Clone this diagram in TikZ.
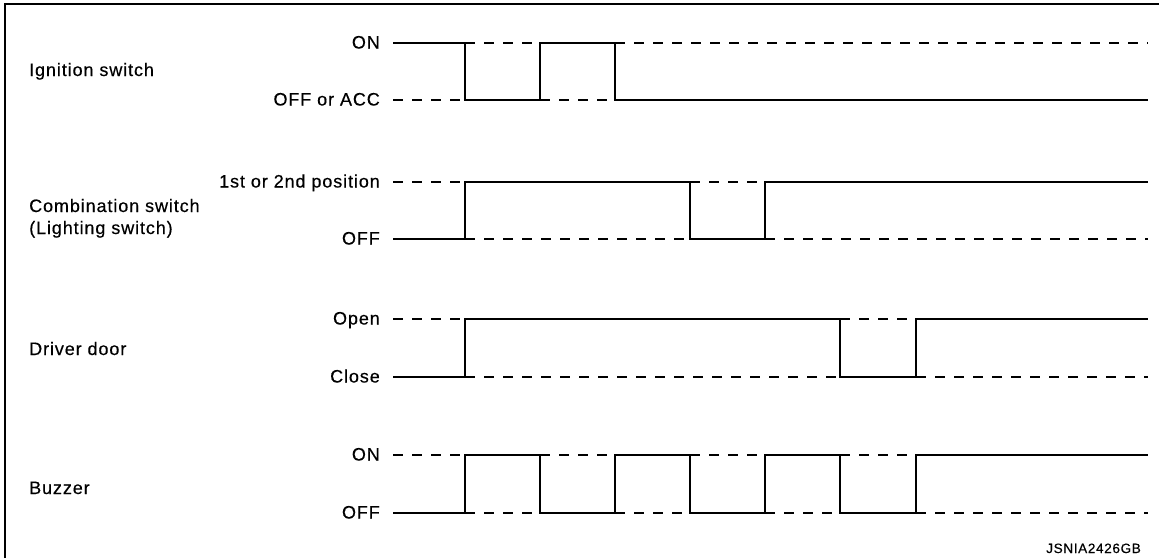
\documentclass[tikz,border=0pt]{standalone}
\usepackage{fontspec}
\setmainfont{Liberation Sans}[LetterSpace=5,FakeBold=0.4]
\begin{document}
\begin{tikzpicture}[x=1pt,y=-1pt,
  sig/.style={line width=2.5pt},
  dsh/.style={line width=2.5pt, dash pattern=on 10pt off 9pt},
  frame/.style={line width=2.5pt},
  lvl/.style={anchor=base east, font=\fontsize{18}{21}\selectfont, inner sep=0pt},
  nm/.style={anchor=base west, font=\fontsize{18}{21}\selectfont, inner sep=0pt, align=left},
  code/.style={anchor=base east, font=\fontsize{13.5}{15}\selectfont, inner sep=0pt}]
\useasboundingbox (0,0) rectangle (1159,558);
\fill[white] (0,0) rectangle (1159,558);
% frame
\draw[frame] (5,558) -- (5,4) -- (1159,4);

% names
\node[nm] (ign) at (29,76) {Ignition switch};
\node[nm] (comb) at (29,212) {Combination switch};
\node[nm] (light) at (29,234) {(Lighting switch)};
\node[nm] (door) at (29,355) {Driver door};
\node[nm] (buz) at (29,494) {Buzzer};

% level labels
\node[lvl] (ion) at (380,48.5) {ON};
\node[lvl] (ioff) at (380,105.5) {OFF or ACC};
\node[lvl] (cpos) at (380,187.5) {1st or 2nd position};
\node[lvl] (coff) at (380,244.5) {OFF};
\node[lvl] (dopen) at (380,324.5) {Open};
\node[lvl] (dclose) at (380,382.5) {Close};
\node[lvl] (bon) at (380,460.5) {ON};
\node[lvl] (boff) at (380,518.5) {OFF};

\node[code] (jsn) at (1141,553) {JSNIA2426GB};

% Ignition switch
\draw[sig] (393,43) -- (465,43) -- (465,100) -- (540,100) -- (540,43) -- (615,43) -- (615,100) -- (1148,100);
\draw[dsh] (393,100) -- (465,100);
\draw[dsh] (465,43) -- (540,43);
\draw[dsh] (540,100) -- (615,100);
\draw[dsh] (615,43) -- (1148,43);

% Combination switch
\draw[sig] (393,239) -- (465,239) -- (465,182) -- (690,182) -- (690,239) -- (765,239) -- (765,182) -- (1148,182);
\draw[dsh] (393,182) -- (465,182);
\draw[dsh] (465,239) -- (690,239);
\draw[dsh] (690,182) -- (765,182);
\draw[dsh] (765,239) -- (1148,239);

% Driver door
\draw[sig] (393,377) -- (465,377) -- (465,319) -- (840,319) -- (840,377) -- (916,377) -- (916,319) -- (1148,319);
\draw[dsh] (393,319) -- (465,319);
\draw[dsh] (465,377) -- (840,377);
\draw[dsh] (840,319) -- (916,319);
\draw[dsh] (916,377) -- (1148,377);

% Buzzer
\draw[sig] (393,513) -- (465,513) -- (465,455) -- (540,455) -- (540,513) -- (615,513) -- (615,455) -- (690,455) -- (690,513) -- (765,513) -- (765,455) -- (840,455) -- (840,513) -- (916,513) -- (916,455) -- (1148,455);
\draw[dsh] (393,455) -- (465,455);
\draw[dsh] (465,513) -- (540,513);
\draw[dsh] (540,455) -- (615,455);
\draw[dsh] (615,513) -- (690,513);
\draw[dsh] (690,455) -- (765,455);
\draw[dsh] (765,513) -- (840,513);
\draw[dsh] (840,455) -- (916,455);
\draw[dsh] (916,513) -- (1148,513);
\end{tikzpicture}
\end{document}
